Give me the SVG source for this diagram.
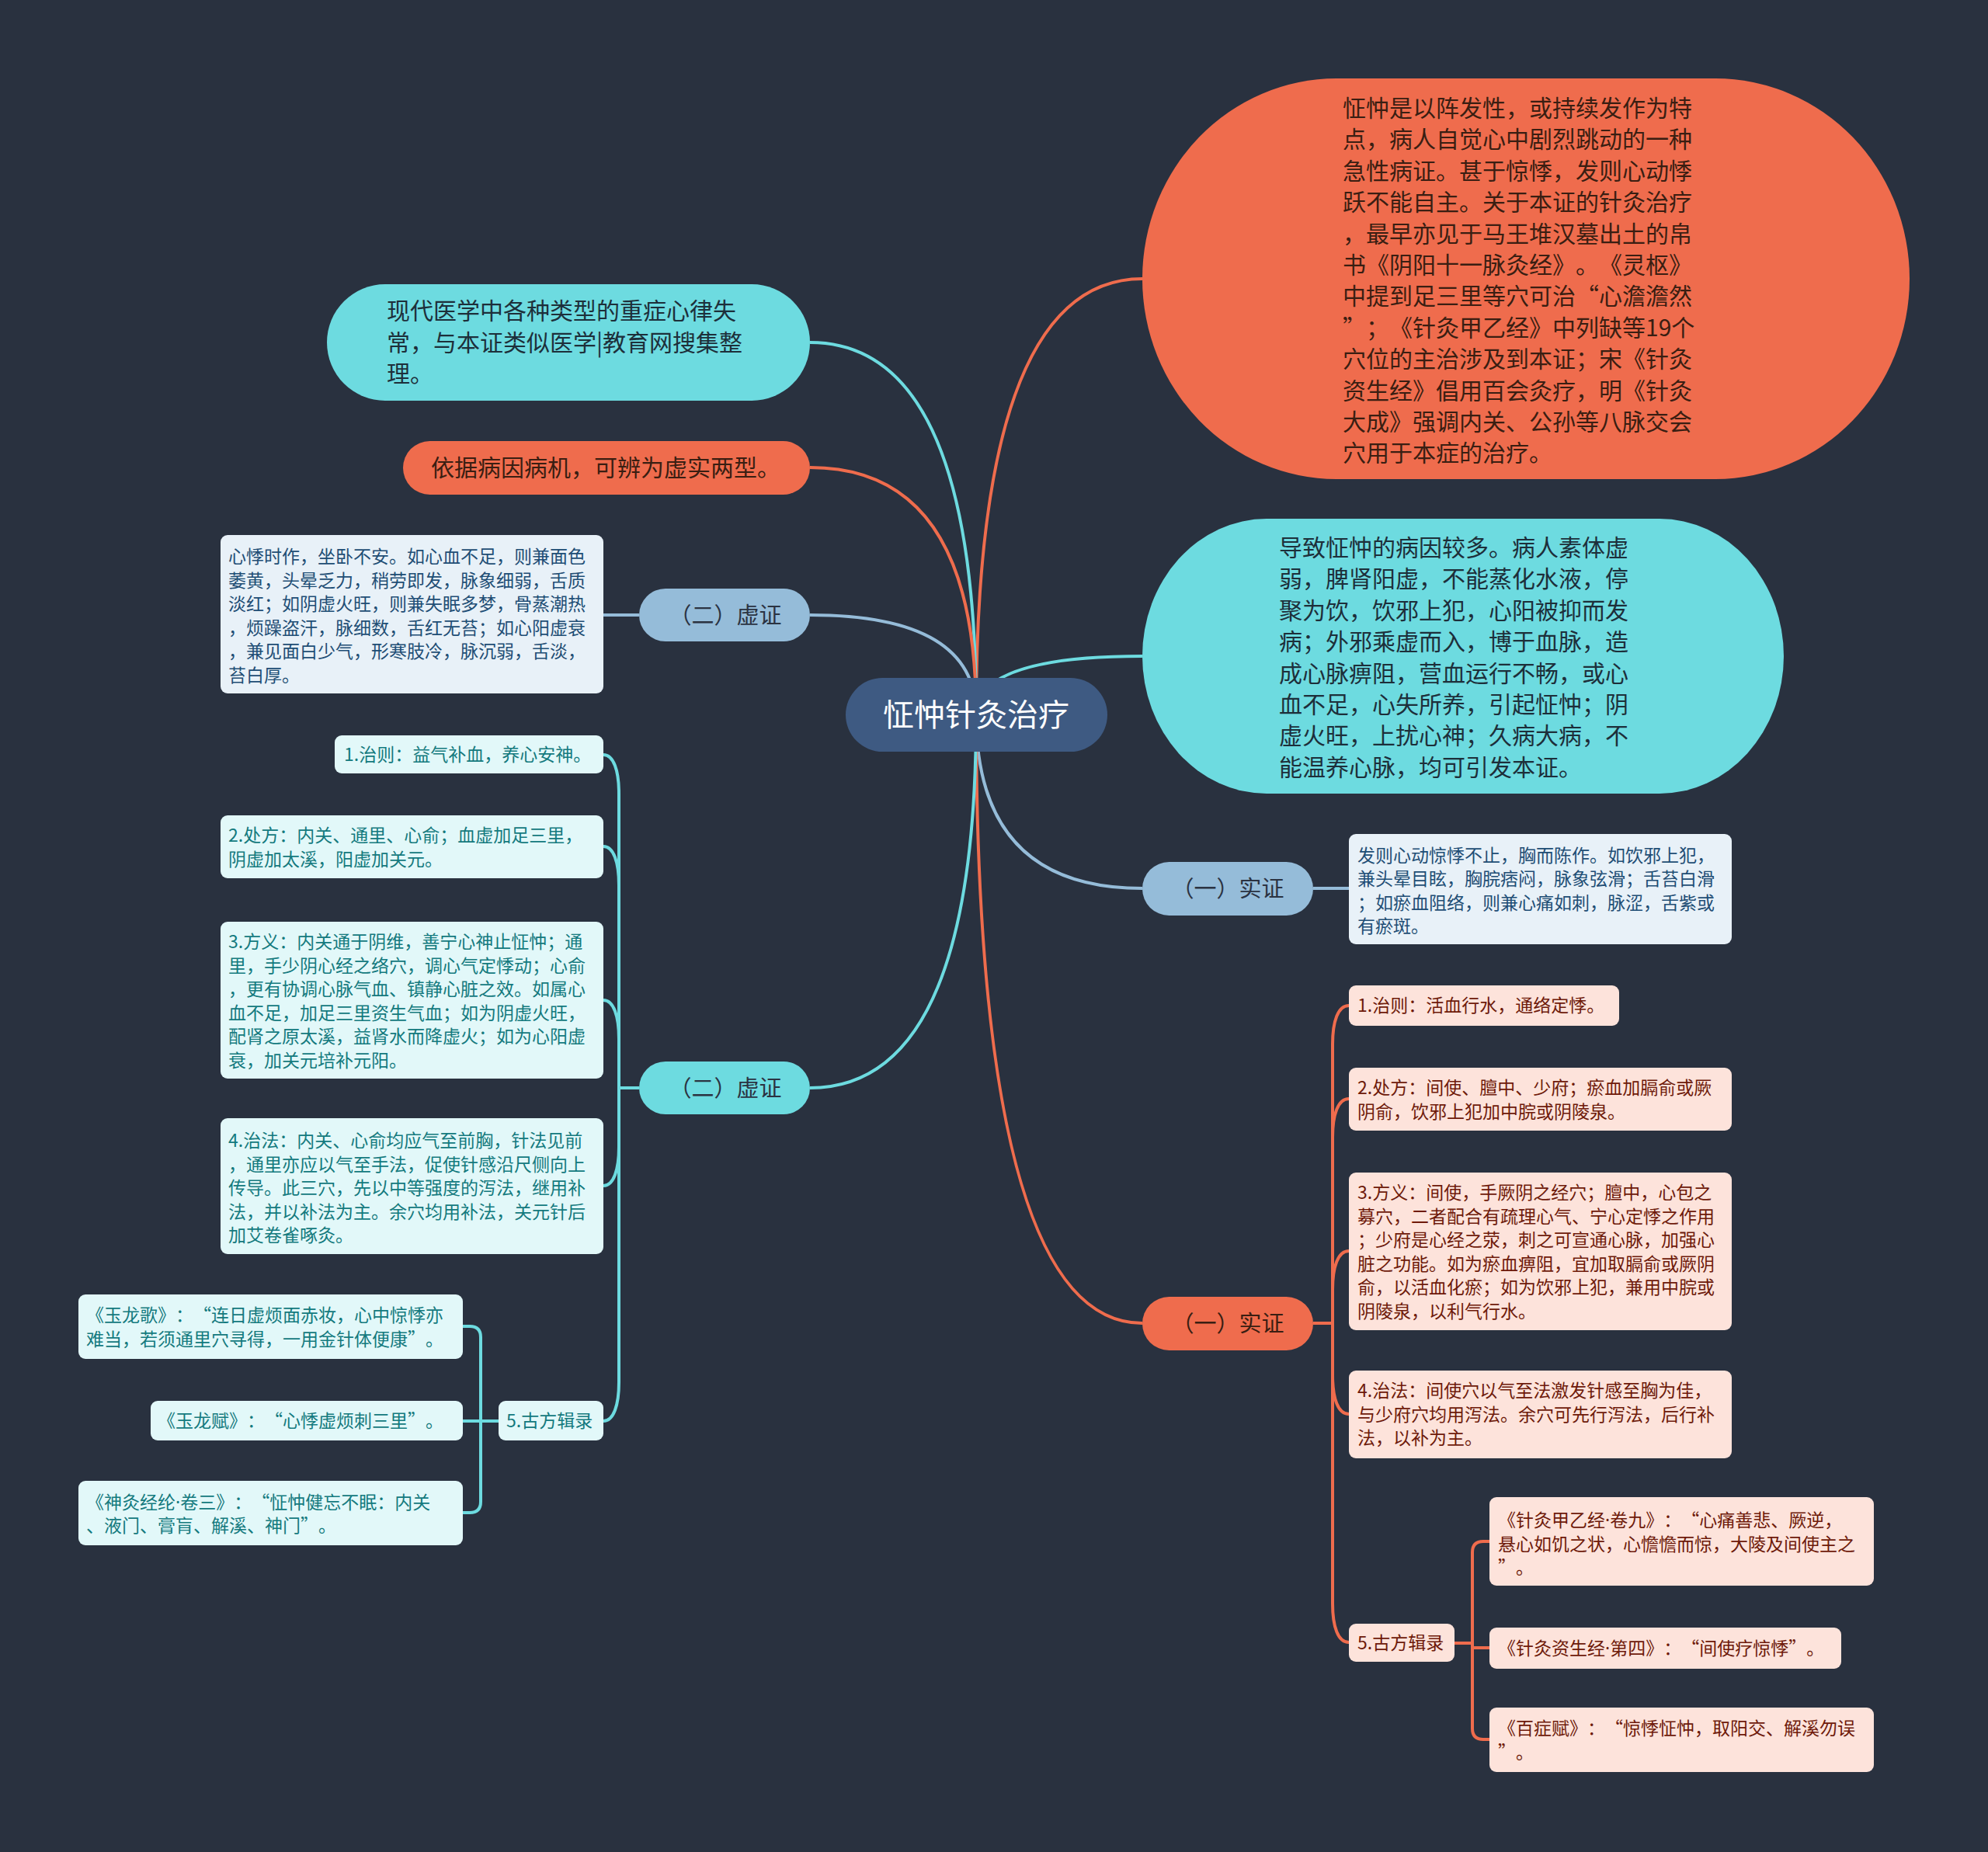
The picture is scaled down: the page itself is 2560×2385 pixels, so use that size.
<svg xmlns="http://www.w3.org/2000/svg" width="2560" height="2385" viewBox="0 0 2560 2385">
<style>
text{font-family:"Noto Sans CJK SC","Noto Sans",sans-serif;text-spacing-trim:space-all;}
.fw{font-feature-settings:"fwid" 1;}
.md{font-family:"Noto Sans","DejaVu Sans",sans-serif;}
.t30{font-size:30px;}
.t23{font-size:23px;}
.br{font-size:29px;text-anchor:middle;fill:#2b3342;}
.dk{fill:#3a1e12;}
.dc{fill:#1d2f3a;}
.lo{fill:none;stroke:#ef6c4d;stroke-width:4;}
.lc{fill:none;stroke:#6ddbe0;stroke-width:4;}
.ls{fill:none;stroke:#95bcd9;stroke-width:4;}
.bs{fill:#e8f1f8;}
.ts{fill:#1f4e75;}
.bc{fill:#e2f8f9;}
.tc{fill:#147a7e;}
.bp{fill:#fde3db;}
.tp{fill:#6e1a0a;}
</style>
<rect width="2560" height="2385" fill="#29313f"/>
<g id="connectors">
<path class="lo" d="M1257 920 Q1257 359 1471 359"/>
<path class="lc" d="M1257 920 Q1257 845 1471 845"/>
<path class="ls" d="M1257 920 Q1257 1144 1471 1144"/>
<path class="lo" d="M1257 920 Q1257 1704 1471 1704"/>
<path class="lc" d="M1257 920 Q1257 441 1043 441"/>
<path class="lo" d="M1257 920 Q1257 602 1043 602"/>
<path class="ls" d="M1257 920 Q1257 792 1043 792"/>
<path class="lc" d="M1257 920 Q1257 1401 1043 1401"/>
<path class="ls" d="M1691 1144 H1737"/>
<path class="ls" d="M823 792 H777"/>
<path class="lc" d="M823 1401 H797 V1022 C797 992 790 972 777 972"/>
<path class="lc" d="M823 1401 H797 V1140 C797 1110 790 1090 777 1090"/>
<path class="lc" d="M823 1401 H797 V1338 C797 1308 790 1288 777 1288"/>
<path class="lc" d="M823 1401 H797 V1477 C797 1507 790 1527 777 1527"/>
<path class="lc" d="M823 1401 H797 V1780 C797 1810 790 1830 777 1830"/>
<path class="lc" d="M642 1830 H596"/>
<path class="lc" d="M619 1830 V1722 Q619 1708 605 1708 H596"/>
<path class="lc" d="M619 1830 V1934 Q619 1948 605 1948 H596"/>
<path class="lo" d="M1691 1704 H1716 V1345 C1716 1315 1723 1295 1737 1295"/>
<path class="lo" d="M1691 1704 H1716 V1465 C1716 1435 1723 1415 1737 1415"/>
<path class="lo" d="M1691 1704 H1716 V1661 C1716 1631 1723 1611 1737 1611"/>
<path class="lo" d="M1691 1704 H1716 V1771 C1716 1801 1723 1821 1737 1821"/>
<path class="lo" d="M1691 1704 H1716 V2065 C1716 2095 1723 2115 1737 2115"/>
<path class="lo" d="M1873 2116 H1896"/>
<path class="lo" d="M1896 2122 H1918"/>
<path class="lo" d="M1918 1985 H1910 Q1896 1985 1896 1999 V2226 Q1896 2240 1910 2240 H1918"/>
</g>
<g id="center">
<rect x="1089" y="873" width="337" height="95" rx="47.5" fill="#3e5a82"/>
<text x="1257" y="935" font-size="40" text-anchor="middle" fill="#ffffff">怔忡针灸治疗</text>
</g>
<g id="n-intro">
<rect x="1471" y="101" width="988" height="516" rx="250" ry="258" fill="#ef6c4d"/>
<text class="t30 dk" x="1729" y="150"><tspan x="1729">怔忡是以阵发性，或持续发作为特</tspan><tspan x="1729" dy="40.4">点，病人自觉心中剧烈跳动的一种</tspan><tspan x="1729" dy="40.4">急性病证。甚于惊悸，发则心动悸</tspan><tspan x="1729" dy="40.4">跃不能自主。关于本证的针灸治疗</tspan><tspan x="1729" dy="40.4">，最早亦见于马王堆汉墓出土的帛</tspan><tspan x="1729" dy="40.4">书《阴阳十一脉灸经》。《灵枢》</tspan><tspan x="1729" dy="40.4">中提到足三里等穴可治<tspan class="fw">“</tspan>心澹澹然</tspan><tspan x="1729" dy="40.4"><tspan class="fw">”</tspan>；《针灸甲乙经》中列缺等19个</tspan><tspan x="1729" dy="40.4">穴位的主治涉及到本证；宋《针灸</tspan><tspan x="1729" dy="40.4">资生经》倡用百会灸疗，明《针灸</tspan><tspan x="1729" dy="40.4">大成》强调内关、公孙等八脉交会</tspan><tspan x="1729" dy="40.4">穴用于本症的治疗。</tspan></text>
</g>
<g id="n-cause">
<rect x="1471" y="668" width="826" height="354" rx="160" ry="177" fill="#6ddbe0"/>
<text class="t30 dc" x="1647" y="716"><tspan x="1647">导致怔忡的病因较多。病人素体虚</tspan><tspan x="1647" dy="40.4">弱，脾肾阳虚，不能蒸化水液，停</tspan><tspan x="1647" dy="40.4">聚为饮，饮邪上犯，心阳被抑而发</tspan><tspan x="1647" dy="40.4">病；外邪乘虚而入，博于血脉，造</tspan><tspan x="1647" dy="40.4">成心脉痹阻，营血运行不畅，或心</tspan><tspan x="1647" dy="40.4">血不足，心失所养，引起怔忡；阴</tspan><tspan x="1647" dy="40.4">虚火旺，上扰心神；久病大病，不</tspan><tspan x="1647" dy="40.4">能温养心脉，均可引发本证。</tspan></text>
</g>
<g id="n-modern">
<rect x="421" y="366" width="622" height="150" rx="75" fill="#6ddbe0"/>
<text class="t30 dc" x="498" y="411"><tspan x="498">现代医学中各种类型的重症心律失</tspan><tspan x="498" dy="40.7">常，与本证类似医学|教育网搜集整</tspan><tspan x="498" dy="40.7">理。</tspan></text>
</g>
<g id="n-type">
<rect x="519" y="568" width="524" height="69" rx="34.5" fill="#ef6c4d"/>
<text class="t30 dk" x="555" y="613">依据病因病机，可辨为虚实两型。</text>
</g>
<g id="n-xu1">
<rect x="823" y="758" width="220" height="68" rx="34" fill="#95bcd9"/>
<text class="br" x="934" y="803">（二）虚证</text>
</g>
<g id="n-xu1-d">
<rect class="bs" x="284" y="689" width="493" height="204" rx="9"/>
<text class="t23 ts" x="294" y="725"><tspan x="294">心悸时作，坐卧不安。如心血不足，则兼面色</tspan><tspan x="294" dy="30.5">萎黄，头晕乏力，稍劳即发，脉象细弱，舌质</tspan><tspan x="294" dy="30.5">淡红；如阴虚火旺，则兼失眠多梦，骨蒸潮热</tspan><tspan x="294" dy="30.5">，烦躁盗汗，脉细数，舌红无苔；如心阳虚衰</tspan><tspan x="294" dy="30.5">，兼见面白少气，形寒肢冷，脉沉弱，舌淡，</tspan><tspan x="294" dy="30.5">苔白厚。</tspan></text>
</g>
<g id="n-xu2">
<rect x="823" y="1367" width="220" height="68" rx="34" fill="#6ddbe0"/>
<text class="br" x="934" y="1412">（二）虚证</text>
</g>
<g id="n-xu2-1">
<rect class="bc" x="431" y="947" width="346" height="49" rx="9"/>
<text class="t23 tc" x="443" y="980">1.治则：益气补血，养心安神。</text>
</g>
<g id="n-xu2-2">
<rect class="bc" x="284" y="1050" width="493" height="81" rx="9"/>
<text class="t23 tc" x="294" y="1084"><tspan x="294">2.处方：内关、通里、心俞；血虚加足三里，</tspan><tspan x="294" dy="30.5">阴虚加太溪，阳虚加关元。</tspan></text>
</g>
<g id="n-xu2-3">
<rect class="bc" x="284" y="1187" width="493" height="202" rx="9"/>
<text class="t23 tc" x="294" y="1221"><tspan x="294">3.方义：内关通于阴维，善宁心神止怔忡；通</tspan><tspan x="294" dy="30.5">里，手少阴心经之络穴，调心气定悸动；心俞</tspan><tspan x="294" dy="30.5">，更有协调心脉气血、镇静心脏之效。如属心</tspan><tspan x="294" dy="30.5">血不足，加足三里资生气血；如为阴虚火旺，</tspan><tspan x="294" dy="30.5">配肾之原太溪，益肾水而降虚火；如为心阳虚</tspan><tspan x="294" dy="30.5">衰，加关元培补元阳。</tspan></text>
</g>
<g id="n-xu2-4">
<rect class="bc" x="284" y="1440" width="493" height="175" rx="9"/>
<text class="t23 tc" x="294" y="1477"><tspan x="294">4.治法：内关、心俞均应气至前胸，针法见前</tspan><tspan x="294" dy="30.5">，通里亦应以气至手法，促使针感沿尺侧向上</tspan><tspan x="294" dy="30.5">传导。此三穴，先以中等强度的泻法，继用补</tspan><tspan x="294" dy="30.5">法，并以补法为主。余穴均用补法，关元针后</tspan><tspan x="294" dy="30.5">加艾卷雀啄灸。</tspan></text>
</g>
<g id="n-xu2-5">
<rect class="bc" x="642" y="1804" width="135" height="51" rx="9"/>
<text class="t23 tc" x="652" y="1838">5.古方辑录</text>
</g>
<g id="n-xu2-5a">
<rect class="bc" x="101" y="1667" width="495" height="83" rx="9"/>
<text class="t23 tc" x="111" y="1702"><tspan x="111">《玉龙歌》：<tspan class="fw">“</tspan>连日虚烦面赤妆，心中惊悸亦</tspan><tspan x="111" dy="31">难当，若须通里穴寻得，一用金针体便康<tspan class="fw">”</tspan>。</tspan></text>
</g>
<g id="n-xu2-5b">
<rect class="bc" x="194" y="1804" width="402" height="51" rx="9"/>
<text class="t23 tc" x="203" y="1838">《玉龙赋》：<tspan class="fw">“</tspan>心悸虚烦刺三里<tspan class="fw">”</tspan>。</text>
</g>
<g id="n-xu2-5c">
<rect class="bc" x="101" y="1907" width="495" height="83" rx="9"/>
<text class="t23 tc" x="111" y="1943"><tspan x="111">《神灸经纶<tspan class="md">·</tspan>卷三》：<tspan class="fw">“</tspan>怔忡健忘不眠：内关</tspan><tspan x="111" dy="30">、液门、膏肓、解溪、神门<tspan class="fw">”</tspan>。</tspan></text>
</g>
<g id="n-shi1">
<rect x="1471" y="1110" width="220" height="69" rx="34.5" fill="#95bcd9"/>
<text class="br" x="1581" y="1155">（一）实证</text>
</g>
<g id="n-shi1-d">
<rect class="bs" x="1737" y="1074" width="493" height="142" rx="9"/>
<text class="t23 ts" x="1748" y="1110"><tspan x="1748">发则心动惊悸不止，胸而陈作。如饮邪上犯，</tspan><tspan x="1748" dy="30.3">兼头晕目眩，胸脘痞闷，脉象弦滑；舌苔白滑</tspan><tspan x="1748" dy="30.3">；如瘀血阻络，则兼心痛如刺，脉涩，舌紫或</tspan><tspan x="1748" dy="30.3">有瘀斑。</tspan></text>
</g>
<g id="n-shi2">
<rect x="1471" y="1670" width="220" height="69" rx="34.5" fill="#ef6c4d"/>
<text class="br" x="1581" y="1715" style="fill:#3a1e12">（一）实证</text>
</g>
<g id="n-shi2-1">
<rect class="bp" x="1737" y="1269" width="348" height="52" rx="9"/>
<text class="t23 tp" x="1748" y="1303">1.治则：活血行水，通络定悸。</text>
</g>
<g id="n-shi2-2">
<rect class="bp" x="1737" y="1375" width="493" height="81" rx="9"/>
<text class="t23 tp" x="1748" y="1409"><tspan x="1748">2.处方：间使、膻中、少府；瘀血加膈俞或厥</tspan><tspan x="1748" dy="30.5">阴俞，饮邪上犯加中脘或阴陵泉。</tspan></text>
</g>
<g id="n-shi2-3">
<rect class="bp" x="1737" y="1510" width="493" height="203" rx="9"/>
<text class="t23 tp" x="1748" y="1544"><tspan x="1748">3.方义：间使，手厥阴之经穴；膻中，心包之</tspan><tspan x="1748" dy="30.5">募穴，二者配合有疏理心气、宁心定悸之作用</tspan><tspan x="1748" dy="30.5">；少府是心经之荥，刺之可宣通心脉，加强心</tspan><tspan x="1748" dy="30.5">脏之功能。如为瘀血痹阻，宜加取膈俞或厥阴</tspan><tspan x="1748" dy="30.5">俞，以活血化瘀；如为饮邪上犯，兼用中脘或</tspan><tspan x="1748" dy="30.5">阴陵泉，以利气行水。</tspan></text>
</g>
<g id="n-shi2-4">
<rect class="bp" x="1737" y="1765" width="493" height="113" rx="9"/>
<text class="t23 tp" x="1748" y="1799"><tspan x="1748">4.治法：间使穴以气至法激发针感至胸为佳，</tspan><tspan x="1748" dy="30.5">与少府穴均用泻法。余穴可先行泻法，后行补</tspan><tspan x="1748" dy="30.5">法，以补为主。</tspan></text>
</g>
<g id="n-shi2-5">
<rect class="bp" x="1737" y="2091" width="136" height="49" rx="9"/>
<text class="t23 tp" x="1748" y="2124">5.古方辑录</text>
</g>
<g id="n-shi2-5a">
<rect class="bp" x="1918" y="1928" width="495" height="114" rx="9"/>
<text class="t23 tp" x="1929" y="1966"><tspan x="1929">《针灸甲乙经<tspan class="md">·</tspan>卷九》：<tspan class="fw">“</tspan>心痛善悲、厥逆，</tspan><tspan x="1929" dy="30.5">悬心如饥之状，心憺憺而惊，大陵及间使主之</tspan><tspan x="1929" dy="30.5"><tspan class="fw">”</tspan>。</tspan></text>
</g>
<g id="n-shi2-5b">
<rect class="bp" x="1918" y="2096" width="453" height="53" rx="9"/>
<text class="t23 tp" x="1929" y="2131">《针灸资生经<tspan class="md">·</tspan>第四》：<tspan class="fw">“</tspan>间使疗惊悸<tspan class="fw">”</tspan>。</text>
</g>
<g id="n-shi2-5c">
<rect class="bp" x="1918" y="2199" width="495" height="83" rx="9"/>
<text class="t23 tp" x="1929" y="2234"><tspan x="1929">《百症赋》：<tspan class="fw">“</tspan>惊悸怔忡，取阳交、解溪勿误</tspan><tspan x="1929" dy="30.5"><tspan class="fw">”</tspan>。</tspan></text>
</g>
</svg>
